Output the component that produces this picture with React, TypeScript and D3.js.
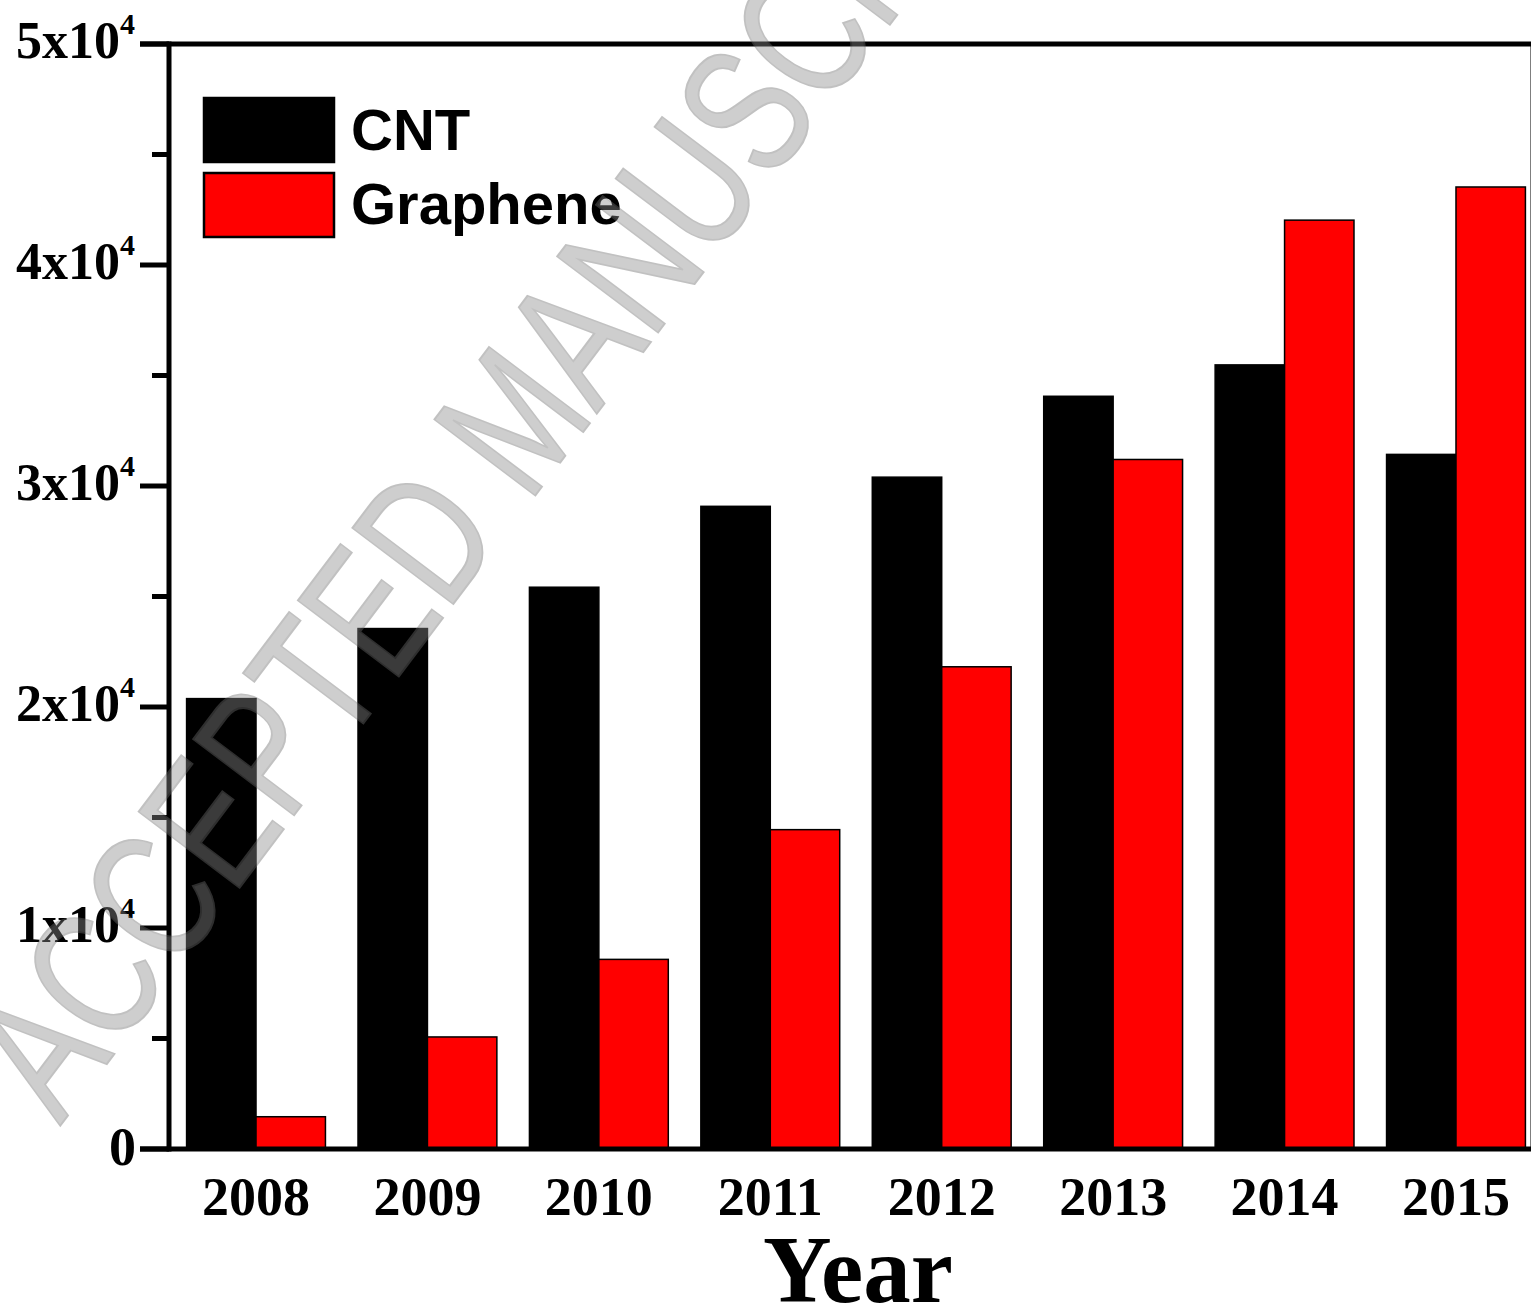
import React from "react";
import * as d3 from "d3";

const years = ["2008", "2009", "2010", "2011", "2012", "2013", "2014", "2015"];
const seriesNames = ["CNT", "Graphene"];
const cntValues = [20380, 23550, 25420, 29080, 30400, 34060, 35480, 31430];
const grapheneValues = [1460, 5070, 8580, 14450, 21820, 31200, 42030, 43530];
const seriesColors = ["#000000", "#ff0000"];
const yMajorTicks = [0, 10000, 20000, 30000, 40000, 50000];
const yTickMantissa = ["0", "1", "2", "3", "4", "5"];

const W = 1531;
const H = 1315;
const left = 169;
const right = 1533;
const top = 44;
const bottom = 1149;

export default function App() {
  const y = d3.scaleLinear().domain([0, 50000]).range([bottom, top]);
  const x = d3
    .scaleBand<string>()
    .domain(years)
    .range([170.3, 1541.7])
    .paddingInner(0.19)
    .paddingOuter(0.095);
  const xs = d3.scaleBand<string>().domain(seriesNames).range([0, x.bandwidth()]);
  const minorTicks = d3.range(5000, 50000, 10000);
  const data = [cntValues, grapheneValues];
  const serif = "'Liberation Serif', 'Times New Roman', serif";
  const sans = "'Liberation Sans', Arial, sans-serif";

  return (
    <svg
      width={W}
      height={H}
      style={{ position: "absolute", left: 0, top: 0, background: "#fff" }}
    >
      <rect x={0} y={0} width={W} height={H} fill="#fff" />
      {/* bars */}
      {years.map((yr, i) => (
        <g key={yr} transform={`translate(${x(yr)},0)`}>
          {seriesNames.map((s, j) => (
            <rect
              key={s}
              x={xs(s)}
              y={y(data[j][i])}
              width={xs.bandwidth()}
              height={bottom - y(data[j][i])}
              fill={seriesColors[j]}
              stroke="#000"
              strokeWidth={1.5}
            />
          ))}
        </g>
      ))}
      {/* frame */}
      <line x1={140} x2={W} y1={top} y2={top} stroke="#000" strokeWidth={5} />
      <line x1={140} x2={W} y1={bottom} y2={bottom} stroke="#000" strokeWidth={5} />
      <line x1={left} x2={left} y1={top - 2.5} y2={bottom + 2.5} stroke="#000" strokeWidth={5} />
      <line x1={right} x2={right} y1={top} y2={bottom} stroke="#000" strokeWidth={5} />
      {/* y ticks */}
      {yMajorTicks.map((t) => (
        <line key={t} x1={140} x2={left} y1={y(t)} y2={y(t)} stroke="#000" strokeWidth={5} />
      ))}
      {minorTicks.map((t) => (
        <line key={t} x1={152} x2={left} y1={y(t)} y2={y(t)} stroke="#000" strokeWidth={5} />
      ))}
      {yMajorTicks.map((t, i) =>
        t === 0 ? (
          <text
            key={t}
            x={136}
            y={y(t) + 16}
            textAnchor="end"
            fontFamily={serif}
            fontWeight="bold"
            fontSize={54}
          >
            0
          </text>
        ) : (
          <text
            key={t}
            x={135}
            y={y(t) + 14}
            textAnchor="end"
            fontFamily={serif}
            fontWeight="bold"
            fontSize={52}
          >
            {yTickMantissa[i]}x10
            <tspan fontSize={30} dy={-24}>
              4
            </tspan>
          </text>
        )
      )}
      {/* x labels */}
      {years.map((yr) => (
        <text
          key={yr}
          x={(x(yr) as number) + x.bandwidth() / 2}
          y={1215}
          textAnchor="middle"
          fontFamily={serif}
          fontWeight="bold"
          fontSize={54}
        >
          {yr}
        </text>
      ))}
      <text
        x={858}
        y={1302}
        textAnchor="middle"
        fontFamily={serif}
        fontWeight="bold"
        fontSize={95}
      >
        Year
      </text>
      {/* legend */}
      {seriesNames.map((s, j) => (
        <g key={s}>
          <rect
            x={204}
            y={98 + j * 75}
            width={130}
            height={64}
            fill={seriesColors[j]}
            stroke="#000"
            strokeWidth={2.5}
          />
          <text
            x={351}
            y={150 + j * 74}
            fontFamily={sans}
            fontWeight="bold"
            fontSize={58}
            fill="#000"
          >
            {s}
          </text>
        </g>
      ))}
      {/* watermark */}
      <g opacity={0.42}>
        <text
          transform="translate(60,1126) rotate(-53) scale(1,1.35)"
          fontFamily={sans}
          fontSize={136}
          fill="rgb(140,140,140)"
          stroke="rgb(110,110,110)"
          strokeWidth={1.5}
        >
          ACCEPTED MANUSCRIPT
        </text>
      </g>
    </svg>
  );
}
